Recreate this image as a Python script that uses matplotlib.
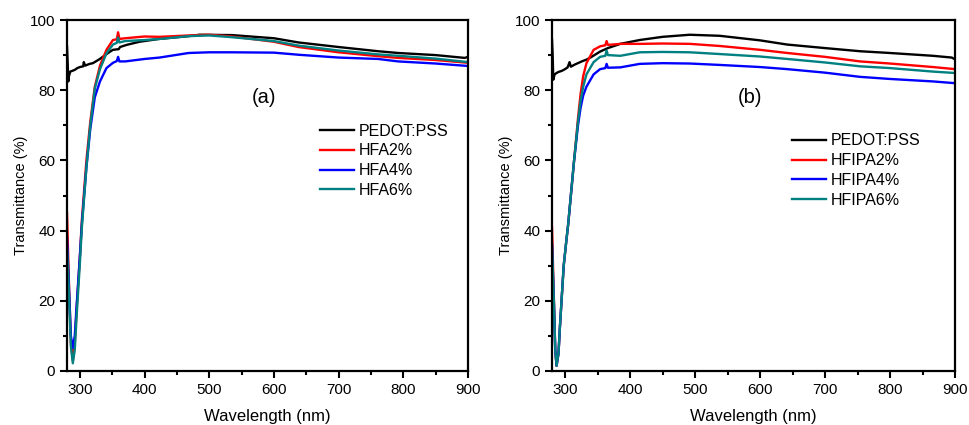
import numpy as np
import matplotlib.pyplot as plt
from matplotlib.ticker import MultipleLocator

plt.rcParams['font.family'] = ['Liberation Sans', 'DejaVu Sans']

# ---- panel (a) ----
wl_black_a = [280, 281, 282, 283, 285, 288, 292, 296, 300, 305, 306, 308, 315, 320, 330, 336,
              345, 351, 360, 362, 372, 392, 422, 468, 485, 535, 600, 638, 700, 761, 792, 850, 895, 900]
black_a = [92.5, 88, 82.5, 84, 85.3, 85.5, 85.8, 86.3, 86.6, 86.8, 88, 87, 87.5, 87.7, 88.8, 89.6,
           90.8, 91.5, 91.7, 92.3, 92.9, 93.8, 94.6, 95.4, 95.8, 95.7, 94.8, 93.6, 92.3, 91.1, 90.6, 90.0, 89.2, 89.5]

wl_a = [280, 283, 286, 289, 292, 295, 300, 303, 310, 316, 323, 331, 341, 351, 357, 359, 361,
        370, 400, 423, 468, 500, 535, 600, 638, 700, 761, 792, 850, 900]
red_a = [45, 25, 8, 3, 8, 18, 33, 43, 60, 71, 81, 87, 91.5, 94.3, 94.5, 96.5, 94.6,
         94.8, 95.3, 95.2, 95.6, 95.8, 95.3, 93.8, 92.3, 90.8, 89.7, 89.2, 88.6, 87.8]
blue_a = [38, 24, 10, 6.5, 10, 19, 33, 42, 58, 69, 78, 82.5, 86.3, 87.8, 88.3, 89.5, 88.2,
          88.2, 88.9, 89.3, 90.6, 90.8, 90.8, 90.7, 90.1, 89.3, 88.9, 88.2, 87.6, 86.9]
teal_a = [35, 22, 7, 2.2, 6, 16, 31, 41, 58, 70, 80.5, 86, 90.5, 93, 93.5, 95, 93.6,
          94, 94.3, 94.6, 95.4, 95.6, 95.1, 94, 92.7, 91.3, 90.2, 89.8, 89.0, 88.0]

# ---- panel (b) ----
wl_black_b = [280, 281, 282, 284, 287, 290, 295, 300, 304, 307, 309, 315, 327, 333, 340, 354,
              366, 374, 385, 415, 450, 492, 538, 600, 642, 700, 754, 800, 866, 895, 900]
black_b = [94.4, 90, 83, 84.5, 84.9, 85.2, 85.5, 86, 86.5, 88, 86.7, 87.3, 88.3, 88.7, 89.4, 91.0,
           92.0, 92.5, 93.2, 94.3, 95.2, 95.8, 95.5, 94.2, 93.0, 92.0, 91.1, 90.6, 89.8, 89.3, 88.8]

wl_b = [280, 283, 285, 287, 290, 292, 295, 298, 302, 305, 310, 314, 320, 324, 328, 333, 344,
        354, 362, 364, 366, 385, 415, 450, 492, 538, 600, 642, 700, 754, 800, 866, 900]
red_b = [41, 20, 6, 1.5, 5, 12, 21, 30, 37, 42, 52, 60, 72, 79, 84, 87.7, 91.5,
         92.5, 92.8, 94, 92.9, 93.2, 93.2, 93.3, 93.2, 92.6, 91.5, 90.6, 89.5, 88.2, 87.6, 86.6, 86.0]
blue_b = [36, 19, 6, 1.5, 5, 12, 21, 30, 37, 42, 52, 60, 70, 75, 78.5, 81, 84.5,
          86, 86.3, 87.5, 86.4, 86.5, 87.5, 87.7, 87.6, 87.2, 86.6, 86.0, 85.0, 83.8, 83.2, 82.5, 82.0]
teal_b = [36, 19, 6, 1.5, 5, 12, 21, 30, 37, 42, 52, 60, 71, 77, 81, 84.5, 88,
          89.5, 89.8, 91.3, 90, 89.8, 90.8, 90.9, 90.8, 90.3, 89.6, 88.9, 87.9, 86.8, 86.3, 85.3, 84.9]

labels_a = ['PEDOT:PSS', 'HFA2%', 'HFA4%', 'HFA6%']
labels_b = ['PEDOT:PSS', 'HFIPA2%', 'HFIPA4%', 'HFIPA6%']
colors = ['black', 'red', 'blue', '#008080']

fig = plt.figure(figsize=(9.69, 4.25), dpi=100)
ax_a = fig.add_axes([67 / 969, 1 - 371 / 425, 401 / 969, 351 / 425])
ax_b = fig.add_axes([552 / 969, 1 - 371 / 425, 403 / 969, 351 / 425])


def draw_panel(ax, series, labels, tag, legend_pos):
    for (x, y), lab, c in zip(series, labels, colors):
        ax.plot(x, y, color=c, lw=1.7, label=lab)
    ax.set_xlim(280, 900)
    ax.set_ylim(0, 100)
    ax.xaxis.set_major_locator(MultipleLocator(100))
    ax.xaxis.set_minor_locator(MultipleLocator(50))
    ax.yaxis.set_major_locator(MultipleLocator(20))
    ax.yaxis.set_minor_locator(MultipleLocator(10))
    ax.tick_params(which='major', direction='out', length=5, width=1.5, labelsize=11)
    ax.tick_params(which='minor', direction='out', length=3, width=1.5)
    for s in ax.spines.values():
        s.set_linewidth(1.6)
    ax.set_xlabel('Wavelength (nm)', fontsize=12, labelpad=9)
    ax.set_ylabel('Transmittance (%)', fontsize=10.5, labelpad=1)
    ax.text(585, 78, tag, fontsize=14.5, ha='center', va='center')
    ax.legend(loc='upper left', bbox_to_anchor=legend_pos, frameon=False, fontsize=11.5,
              handlelength=2.1, handletextpad=0.3, labelspacing=0.3, borderpad=0, borderaxespad=0)


draw_panel(ax_a, [(wl_black_a, black_a), (wl_a, red_a), (wl_a, blue_a), (wl_a, teal_a)],
           labels_a, '(a)', (0.631, 0.705))
draw_panel(ax_b, [(wl_black_b, black_b), (wl_b, red_b), (wl_b, blue_b), (wl_b, teal_b)],
           labels_b, '(b)', (0.596, 0.677))

fig.savefig('out.png', dpi=100)
